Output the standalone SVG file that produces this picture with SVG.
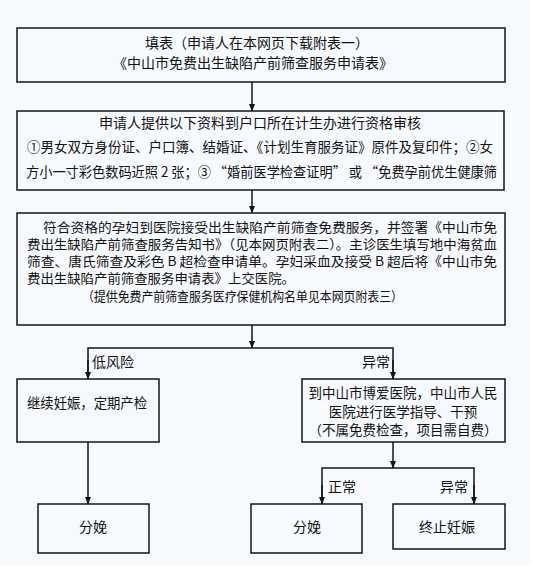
<svg xmlns="http://www.w3.org/2000/svg" width="533" height="573" viewBox="0 0 533 573">
<style>
.box{fill:#f6f9fd;stroke:#151515;stroke-width:1.5}
.ln{fill:none;stroke:#151515;stroke-width:1.5}
text{font-family:"Noto Sans CJK SC","Liberation Sans",sans-serif;font-size:14px;fill:#111}
.c{text-anchor:middle}
.s{font-size:13.5px}
.t{font-size:13px}
</style>
<defs>
<marker id="ah" viewBox="0 0 8 8" refX="7.5" refY="4" markerWidth="8" markerHeight="8" markerUnits="userSpaceOnUse" orient="auto">
<path d="M0,0.8 L8,4 L0,7.2 Z" fill="#151515"/>
</marker>
</defs>
<rect x="0" y="0" width="533" height="573" fill="#ffffff"/>
<rect x="0" y="0" width="530" height="565" fill="#f6f9fd"/>
<g id="connectors">
<line class="ln" x1="252" y1="82" x2="252" y2="111" marker-end="url(#ah)"/>
<line class="ln" x1="252" y1="190" x2="252" y2="213" marker-end="url(#ah)"/>
<line class="ln" x1="252" y1="325" x2="252" y2="348" marker-end="url(#ah)"/>
<polyline class="ln" points="88,379 88,348 393,348 393,379"/>
<line class="ln" x1="88" y1="360" x2="88" y2="379" marker-end="url(#ah)"/>
<line class="ln" x1="393" y1="360" x2="393" y2="379" marker-end="url(#ah)"/>
<line class="ln" x1="88" y1="442" x2="88" y2="504" marker-end="url(#ah)"/>
<line class="ln" x1="393" y1="442" x2="393" y2="468" marker-end="url(#ah)"/>
<polyline class="ln" points="322,504 322,468 474,468 474,504"/>
<line class="ln" x1="322" y1="485" x2="322" y2="504" marker-end="url(#ah)"/>
<line class="ln" x1="474" y1="485" x2="474" y2="504" marker-end="url(#ah)"/>
<text x="92" y="367">低风险</text>
<text x="390" y="367" text-anchor="end">异常</text>
<text x="328" y="492">正常</text>
<text x="468" y="492" text-anchor="end">异常</text>
</g>
<g id="node1">
<rect class="box" x="17" y="28" width="488" height="54"/>
<text class="c" x="257" y="48">填表（申请人在本网页下载附表一）</text>
<text class="c" x="253" y="68">《中山市免费出生缺陷产前筛查服务申请表》</text>
</g>
<g id="node2">
<rect class="box" x="17" y="111" width="487" height="79"/>
<text class="c" x="260" y="128">申请人提供以下资料到户口所在计生办进行资格审核</text>
<text x="27" y="152" textLength="466" lengthAdjust="spacingAndGlyphs">①男女双方身份证、户口簿、结婚证、《计划生育服务证》原件及复印件；②女</text>
<text x="26" y="177" textLength="471" lengthAdjust="spacingAndGlyphs">方小一寸彩色数码近照 2 张；③ “婚前医学检查证明” 或 “免费孕前优生健康筛</text>
</g>
<g id="node3">
<rect class="box" x="17" y="213" width="488" height="112"/>
<text class="t" x="43" y="232" textLength="454" lengthAdjust="spacingAndGlyphs">符合资格的孕妇到医院接受出生缺陷产前筛查免费服务，并签署《中山市免</text>
<text class="t" x="27" y="249" textLength="470" lengthAdjust="spacingAndGlyphs">费出生缺陷产前筛查服务告知书》（见本网页附表二）。主诊医生填写地中海贫血</text>
<text class="t" x="27" y="266" textLength="470" lengthAdjust="spacingAndGlyphs">筛查、唐氏筛查及彩色 B 超检查申请单。孕妇采血及接受 B 超后将《中山市免</text>
<text class="t" x="27" y="283" textLength="268" lengthAdjust="spacingAndGlyphs">费出生缺陷产前筛查服务申请表》上交医院。</text>
<text class="t" x="82" y="301" textLength="321" lengthAdjust="spacingAndGlyphs">（提供免费产前筛查服务医疗保健机构名单见本网页附表三）</text>
</g>
<g id="node4">
<rect class="box" x="17" y="379" width="142" height="63"/>
<text x="27" y="408" textLength="120" lengthAdjust="spacingAndGlyphs">继续妊娠，定期产检</text>
</g>
<g id="node5">
<rect class="box" x="302" y="379" width="203" height="63"/>
<text class="c s" x="403" y="398">到中山市博爱医院，中山市人民</text>
<text class="c s" x="403" y="417">医院进行医学指导、干预</text>
<text class="c s" x="403" y="435">（不属免费检查，项目需自费）</text>
</g>
<g id="node6">
<rect class="box" x="38" y="504" width="111" height="49"/>
<text class="c" x="93" y="532">分娩</text>
</g>
<g id="node7">
<rect class="box" x="251" y="504" width="111" height="49"/>
<text class="c" x="307" y="532">分娩</text>
</g>
<g id="node8">
<rect class="box" x="393" y="504" width="112" height="45"/>
<text class="c" x="447" y="532">终止妊娠</text>
</g>
</svg>
